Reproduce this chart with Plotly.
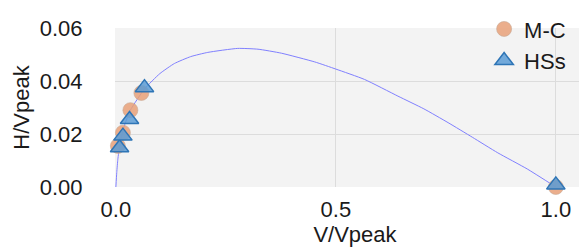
import plotly.graph_objects as go

# Fitted curve
curve_x = [0.0, 0.002, 0.0045, 0.0084, 0.012, 0.02, 0.033, 0.065, 0.10, 0.133, 0.17, 0.209,
           0.277, 0.323, 0.376, 0.452, 0.50, 0.565, 0.641, 0.70, 0.755, 0.81, 0.868,
           0.935, 1.0]
curve_y = [0.0, 0.0055, 0.0105, 0.0153, 0.0185, 0.0235, 0.0290, 0.0370, 0.0428, 0.0466,
           0.0492, 0.0508, 0.0523, 0.0520, 0.0505, 0.0472, 0.0445, 0.0406, 0.0343,
           0.0295, 0.0243, 0.0188, 0.0129, 0.0068, 0.0]

# M-C points
mc_x = [0.0045, 0.016, 0.033, 0.058, 1.0]
mc_y = [0.0155, 0.0205, 0.0290, 0.0355, 0.0]

# HSs points
hs_x = [0.0084, 0.016, 0.031, 0.065, 1.0]
hs_y = [0.0148, 0.0192, 0.0255, 0.0375, 0.0008]

font_family = "Liberation Sans, Arial, sans-serif"

fig = go.Figure()
fig.add_trace(go.Scatter(x=curve_x, y=curve_y, mode="lines", line_shape="spline",
                         line=dict(color="#8080ff", width=1, smoothing=0.5), showlegend=False,
                         hoverinfo="skip", cliponaxis=False))
fig.add_trace(go.Scatter(x=mc_x, y=mc_y, mode="markers", name="M-C",
                         marker=dict(symbol="circle", size=15, color="rgba(232,160,120,0.85)",
                                     line=dict(color="rgba(200,170,150,0.6)", width=1)),
                         cliponaxis=False))
fig.add_trace(go.Scatter(x=hs_x, y=hs_y, mode="markers", name="HSs",
                         marker=dict(symbol="triangle-up", size=16, color="rgba(91,155,213,0.85)",
                                     line=dict(color="#2e75b6", width=1.5)),
                         cliponaxis=False))

fig.update_layout(
    width=587, height=251,
    margin=dict(l=107, r=0, t=13, b=72),
    paper_bgcolor="white",
    plot_bgcolor="#f3f3f3",
    font=dict(family=font_family, size=22, color="#1a1a1a"),
    legend=dict(x=0.769, y=1.125, xanchor="left", yanchor="top",
                bgcolor="rgba(0,0,0,0)", font=dict(size=22),
                itemsizing="trace", tracegroupgap=0),
    xaxis=dict(range=[-0.002, 1.089], tickvals=[0, 0.5, 1.0], ticktext=["0.0", "0.5", "1.0"],
               showgrid=True, gridcolor="#dcdcdc", gridwidth=1, zeroline=False,
               showline=False, ticks="outside", ticklen=3, tickcolor="rgba(0,0,0,0)",
               title=dict(text="V/Vpeak", standoff=3, font=dict(size=22)),
               tickfont=dict(size=22)),
    yaxis=dict(range=[0, 0.06], tickvals=[0, 0.02, 0.04, 0.06],
               ticktext=["0.00", "0.02", "0.04", "0.06"],
               showgrid=True, gridcolor="#dcdcdc", gridwidth=1, zeroline=False,
               showline=False, ticks="outside", ticklen=27, tickcolor="rgba(0,0,0,0)",
               title=dict(text="H/Vpeak", standoff=4, font=dict(size=22)),
               tickfont=dict(size=22)),
)

fig.write_html("out.html")
